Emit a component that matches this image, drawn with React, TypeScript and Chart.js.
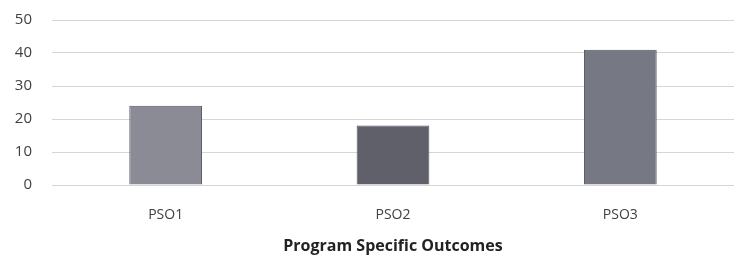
import React, { useEffect, useRef } from "react";
import { Chart, registerables } from "chart.js";

Chart.register(...registerables);

const categories = ["PSO1", "PSO2", "PSO3"];
const values = [24, 18, 41];
const barColors = ["#8a8b94", "#5f606a", "#767883"];
const yTicks = [0, 10, 20, 30, 40, 50];
const axisTitle = "Program Specific Outcomes";

export default function App() {
  const ref = useRef<HTMLCanvasElement | null>(null);
  useEffect(() => {
    if (!ref.current) return;
    const chart = new Chart(ref.current, {
      type: "bar",
      data: {
        labels: categories,
        datasets: [
          {
            data: values,
            backgroundColor: barColors,
            borderColor: "#55565e",
            borderWidth: 1,
            barPercentage: 1,
            categoryPercentage: 0.32,
          },
        ],
      },
      options: {
        animation: false,
        responsive: false,
        maintainAspectRatio: false,
        layout: { padding: { left: 0, right: 14, top: 20, bottom: 0 } },
        plugins: { legend: { display: false }, tooltip: { enabled: false } },
        scales: {
          x: {
            grid: { display: false },
            border: { display: false },
            afterFit: (scale: any) => {
              scale.height = 73;
            },
            ticks: {
              color: "#404040",
              font: { family: "'Open Sans', sans-serif", size: 14 },
              padding: 14,
            },
            title: {
              display: true,
              text: axisTitle,
              color: "#222222",
              font: { family: "'Open Sans', sans-serif", size: 16, weight: "bold" },
              padding: { top: 8, bottom: 2 },
            },
          },
          y: {
            min: 0,
            max: 50,
            afterBuildTicks: (axis: any) => {
              axis.ticks = yTicks.map((v) => ({ value: v }));
            },
            afterFit: (scale: any) => {
              scale.width = 52;
              scale.paddingTop = 0;
              scale.paddingBottom = 0;
            },
            grid: { color: "#d6d6d6", drawTicks: false, lineWidth: 1 },
            border: { display: false },
            ticks: {
              color: "#404040",
              font: { family: "'Open Sans', sans-serif", size: 15 },
              padding: 20,
            },
          },
        },
      },
    });
    return () => chart.destroy();
  }, []);
  return (
    <div style={{ position: "fixed", left: 0, top: 0, width: 748, height: 258, background: "#ffffff" }}>
      <canvas ref={ref} width={748} height={258} />
    </div>
  );
}
